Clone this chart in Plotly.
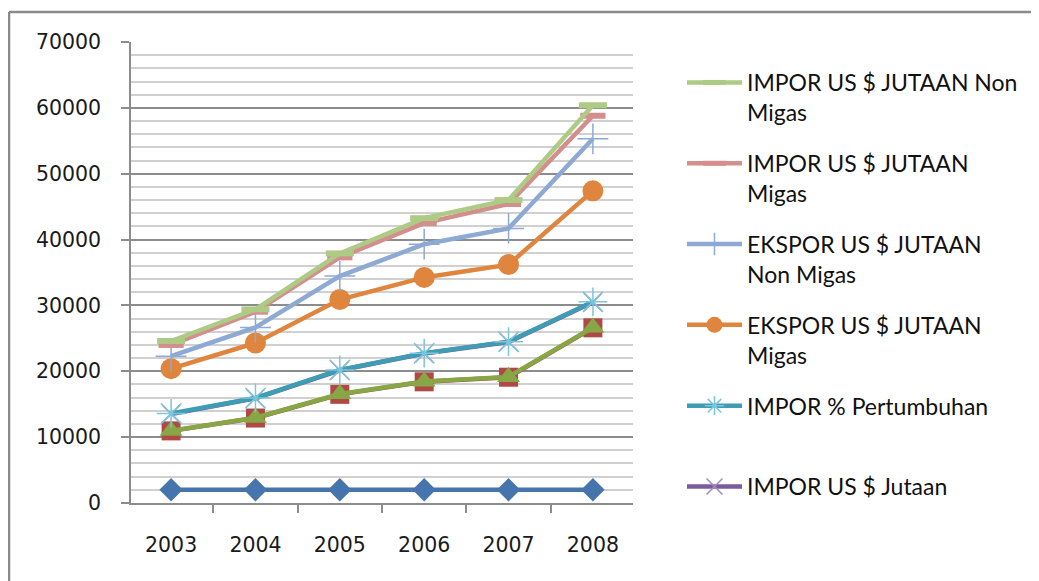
import plotly.graph_objects as go

years = ["2003", "2004", "2005", "2006", "2007", "2008"]

tahun = [2003, 2004, 2005, 2006, 2007, 2008]
seri_merah = [10950, 12900, 16500, 18400, 19100, 26600]
seri_hijau = [10980, 12950, 16550, 18450, 19150, 26650]
impor_jutaan = [13500, 15900, 20150, 22700, 24450, 30500]
impor_pertumbuhan = [13600, 15950, 20200, 22750, 24500, 30550]
ekspor_migas = [20400, 24300, 30900, 34250, 36200, 47400]
ekspor_non_migas = [22300, 26650, 34450, 39300, 41700, 55300]
impor_migas = [24000, 29050, 37300, 42500, 45400, 58800]
impor_non_migas = [24600, 29400, 37900, 43250, 46000, 60400]

# page body has an 8px margin; work in window pixels and convert
OFF = 8
W, H = 1039 - OFF, 581 - OFF
L, R, T, B = 131 - OFF, 633 - OFF, 42 - OFF, 503 - OFF

# (values, legend name, line colour, marker, size, in legend, marker line colour, legend rank)
series = [
    (tahun, "Tahun", "#4674AC", "diamond", 18, False, None, 9),
    (seri_merah, "Seri 2", "#B04845", "square", 19, False, None, 8),
    (seri_hijau, "Seri 3", "#87A645", "triangle-up", 20, False, None, 7),
    (impor_jutaan, "IMPOR US $ Jutaan", "#7A5C9E", "x-thin-open", 18, True, "#A08BC0", 6),
    (impor_pertumbuhan, "IMPOR % Pertumbuhan<br> ", "#3E9CB5", "asterisk-open", 24, True, "#7CC6DC", 5),
    (ekspor_migas, "EKSPOR US $ JUTAAN<br>Migas", "#E0853D", "circle", 21, True, None, 4),
    (ekspor_non_migas, "EKSPOR US $ JUTAAN<br>Non Migas", "#8DA9D4", "cross-thin-open", 22, True, "#8DA9D4", 3),
    (impor_migas, "IMPOR US $ JUTAAN<br>Migas", "#D48E8C", "line-ew-open", 18, True, "#D48E8C", 2),
    (impor_non_migas, "IMPOR US $ JUTAAN Non<br>Migas", "#ADCB85", "line-ew-open", 20, True, "#ADCB85", 1),
]

fig = go.Figure()
for vals, name, color, sym, size, show, mline, rank in series:
    if mline is None:
        marker = dict(symbol=sym, size=size, color=color, line=dict(width=0))
    else:
        lw = 6 if sym == "line-ew-open" else 1.5
        marker = dict(symbol=sym, size=size, color=mline, line=dict(width=lw, color=mline))
    fig.add_trace(go.Scatter(
        x=years, y=vals, name=name, mode="lines+markers",
        line=dict(color=color, width=4.5),
        marker=marker, showlegend=show, legendgroup=name, legendrank=rank,
    ))

def px_x(px):
    return (px - OFF - L) / (R - L)

def px_y(py):
    return (B - (py - OFF)) / (B - T)

fig.add_shape(type="line", xref="paper", yref="paper",
              x0=px_x(9), x1=px_x(1045), y0=px_y(12), y1=px_y(12),
              line=dict(color="#8A8A8A", width=2.5))
fig.add_shape(type="line", xref="paper", yref="paper",
              x0=px_x(9), x1=px_x(9), y0=px_y(12), y1=px_y(590),
              line=dict(color="#8A8A8A", width=2.5))

fig.update_layout(
    width=W, height=H,
    margin=dict(l=L, r=W - R, t=T, b=H - B, pad=0),
    paper_bgcolor="white", plot_bgcolor="white",
    font=dict(family="DejaVu Sans", size=20, color="#1a1a1a"),
    legend=dict(
        x=px_x(682), y=px_y(61), xanchor="left", yanchor="top",
        traceorder="grouped", valign="top",
        font=dict(family="Lato", size=23, color="#111111"),
        itemwidth=55, tracegroupgap=18, bgcolor="rgba(0,0,0,0)", borderwidth=0,
    ),
    xaxis=dict(
        type="category", showgrid=False, showline=True, linecolor="#8C8C8C", linewidth=1.5,
        ticks="outside", tickson="boundaries", ticklen=8, tickcolor="#8C8C8C", tickwidth=1.5,
        ticklabelstandoff=23, tickfont=dict(family="DejaVu Sans", size=20.5),
    ),
    yaxis=dict(
        range=[0, 70000], dtick=10000, tickformat="d",
        showgrid=True, gridcolor="#8C8C8C", gridwidth=1.5,
        showline=True, linecolor="#8C8C8C", linewidth=1.5,
        ticks="outside", ticklen=8, tickcolor="#8C8C8C", tickwidth=1.5,
        ticklabelstandoff=16, tickfont=dict(family="DejaVu Sans", size=20.5),
        minor=dict(dtick=2000, showgrid=True, gridcolor="#D0D0D0", gridwidth=1.5, ticks=""),
        zeroline=False,
    ),
)

fig.write_html("out.html")
